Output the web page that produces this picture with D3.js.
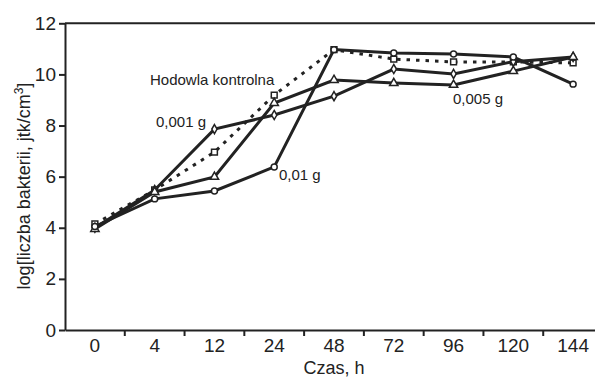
<!DOCTYPE html>
<html><head><meta charset="utf-8">
<script src="https://cdn.jsdelivr.net/npm/d3@7"></script>
<style>body{margin:0;background:#fff}svg{display:block}text{font-family:"Liberation Sans",Arial,sans-serif;fill:#222}</style>
</head><body><svg id="c" width="595" height="379"></svg>
<script>
const categories = ["0","4","12","24","48","72","96","120","144"];
const yTicks = [0,2,4,6,8,10,12];
const control = [4.15,5.48,6.96,9.19,10.97,10.6,10.49,10.49,10.45];
const g0001 = [4.0,5.48,7.86,8.41,9.15,10.21,10.02,10.5,10.68];
const g0005 = [3.95,5.4,5.99,8.88,9.78,9.66,9.59,10.13,10.68];
const g001 = [4.05,5.13,5.44,6.38,10.97,10.84,10.8,10.68,9.62];
const seriesNames = ["Hodowla kontrolna","0,001 g","0,005 g","0,01 g"];

const svg = d3.select("#c");
const ink = "#222";
const x = d3.scaleBand().domain(categories).range([65,603]).padding(0);
const y = d3.scaleLinear().domain([0,12]).range([330,23.3]);
const cx = d => x(d) + x.bandwidth()/2;

// y axis
const ya = svg.append("g").attr("transform","translate(65,0)")
  .call(d3.axisLeft(y).tickValues(yTicks).tickSize(6).tickSizeOuter(0).tickPadding(3));
ya.select(".domain").attr("stroke",ink).attr("stroke-width",2);
ya.selectAll(".tick line").attr("stroke",ink).attr("stroke-width",2);
ya.selectAll(".tick text").attr("font-size",19).attr("fill",ink).style("font-family","Liberation Sans, Arial, sans-serif");

// x axis
const xa = svg.append("g").attr("transform","translate(0,330)")
  .call(d3.axisBottom(x).tickSize(0).tickSizeOuter(0).tickPadding(9));
xa.select(".domain").attr("stroke",ink).attr("stroke-width",2);
xa.selectAll(".tick text").attr("font-size",19).attr("fill",ink).style("font-family","Liberation Sans, Arial, sans-serif");
svg.append("g").selectAll("line").data(categories.slice(1)).join("line")
  .attr("x1",d=>x(d)).attr("x2",d=>x(d)).attr("y1",330).attr("y2",336)
  .attr("stroke",ink).attr("stroke-width",2);

// top frame line
svg.append("line").attr("x1",65).attr("x2",603).attr("y1",y(12)).attr("y2",y(12))
  .attr("stroke",ink).attr("stroke-width",2);

// axis titles
svg.append("text").attr("x",334).attr("y",374).attr("text-anchor","middle").attr("font-size",18).text("Czas, h");
const yl = svg.append("text").attr("transform","translate(30,186) rotate(-90)").attr("text-anchor","middle").attr("font-size",18);
yl.append("tspan").text("log[liczba bakterii, jtk/cm");
yl.append("tspan").attr("font-size",12).attr("dy",-7).text("3");
yl.append("tspan").attr("dy",7).text("]");

const line = d3.line().x((d,i)=>cx(categories[i])).y(d=>y(d));
const series = [
  {vals:control, dash:"3.5,6", sym:d3.symbolSquare, size:34},
  {vals:g0001, dash:null, sym:d3.symbolDiamond, size:24},
  {vals:g0005, dash:null, sym:d3.symbolTriangle, size:30},
  {vals:g001, dash:null, sym:d3.symbolCircle, size:28}
];
series.forEach(s=>{
  svg.append("path").datum(s.vals).attr("d",line).attr("fill","none")
    .attr("stroke",ink).attr("stroke-width",3).attr("stroke-dasharray",s.dash);
});
series.forEach(s=>{
  svg.append("g").selectAll("path").data(s.vals).join("path")
    .attr("transform",(d,i)=>`translate(${cx(categories[i])},${y(d)})`)
    .attr("d",d3.symbol().type(s.sym).size(s.size))
    .attr("fill","#fff").attr("stroke",ink).attr("stroke-width",1.5);
});

// annotations
const ann = [
  {t:seriesNames[0], x:150, y:85},
  {t:seriesNames[1], x:156, y:127},
  {t:seriesNames[2], x:453, y:104},
  {t:seriesNames[3], x:279, y:180}
];
svg.append("g").selectAll("text").data(ann).join("text")
  .attr("x",d=>d.x).attr("y",d=>d.y).attr("font-size",15).text(d=>d.t);
</script></body></html>
